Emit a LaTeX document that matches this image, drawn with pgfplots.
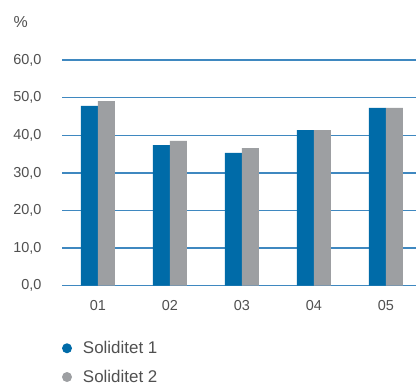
\documentclass[border=0pt]{standalone}
\usepackage{pgfplots}
\pgfplotsset{compat=1.18}
\usepackage{fontspec}
\setmainfont{Liberation Sans}
\definecolor{cblue}{HTML}{006BA8}
\definecolor{cgray}{HTML}{9D9FA2}
\definecolor{cgrid}{HTML}{3F88C0}
\definecolor{ctext}{HTML}{505050}
\begin{document}
\begin{tikzpicture}
\path[use as bounding box] (0,0) rectangle (416bp,385bp);
\begin{axis}[
  at={(62bp,99.3bp)}, anchor=south west,
  scale only axis, width=354bp, height=225.6bp,
  xmin=-0.5, xmax=4.42, ymin=0, ymax=60,
  ybar=0pt, bar width=17bp,
  xtick=data, xticklabels={01,02,03,04,05},
  ytick={0,10,20,30,40,50,60},
  axis line style={draw=none}, tick style={draw=none},
  ymajorgrids, grid style={cgrid, line width=1.3bp},
  /pgf/number format/.cd, fixed, fixed zerofill, precision=1, use comma, assume math mode=true,
  /pgfplots/.cd,
  ticklabel style={font=\fontsize{14.5}{16}\selectfont, text=ctext},
  yticklabel style={xshift=-17bp},
  xticklabel style={yshift=-6.5bp},
  legend style={at={(0,-0.238)}, anchor=north west, draw=none, fill=none,
     font=\fontsize{17}{19}\selectfont, text=ctext,
     row sep=11bp, inner sep=0pt, outer sep=0pt,
     /tikz/every odd column/.style={column sep=9bp}},
  legend cell align=left,
  legend image code/.code={\path[fill, draw=none] (5bp,0bp) circle (5bp);},
  clip=false,
]
\addplot[fill=cblue, draw=none] coordinates {(0,47.8) (1,37.4) (2,35.3) (3,41.4) (4,47.3)};
\addplot[fill=cgray, draw=none] coordinates {(0,49.1) (1,38.5) (2,36.6) (3,41.4) (4,47.3)};
\legend{Soliditet 1, Soliditet 2}
\node[anchor=west, text=ctext, font=\fontsize{16}{18}\selectfont, inner sep=0pt] at (rel axis cs:-0.1375,1.171) {\%};
\end{axis}
\end{tikzpicture}
\end{document}
